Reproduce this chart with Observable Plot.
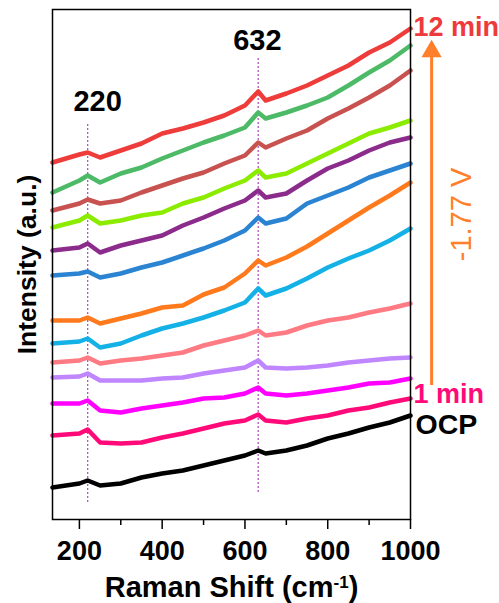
<!DOCTYPE html>
<html>
<head>
<meta charset="utf-8">
<script src="https://cdn.jsdelivr.net/npm/d3@7"></script>
<script src="https://cdn.jsdelivr.net/npm/@observablehq/plot@0.6"></script>
<style>
  html, body { margin: 0; padding: 0; background: #fff; }
  #chart { width: 499px; height: 603px; }
</style>
</head>
<body>
<div id="chart"></div>
<script>
// Raman shift sample positions (cm-1)
const shifts = [135, 200, 220, 250, 300, 350, 400, 450, 500, 550, 600, 632, 650, 700, 750, 800, 850, 900, 950, 1000];

// Intensities (a.u., stacked spectra), top to bottom
const min12 = [357, 365, 367, 362, 369, 376, 386, 391, 397, 404, 414, 428, 419, 426, 434, 444, 454, 467, 477, 491];
const min11 = [327, 339, 344, 337, 346, 352, 361, 369, 377, 384, 392, 407, 401, 407, 414, 422, 434, 447, 459, 474];
const min10 = [309, 316, 320, 316, 319, 327, 334, 341, 347, 356, 364, 377, 372, 381, 389, 401, 411, 422, 434, 449];
const min9  = [292, 299, 304, 296, 299, 304, 307, 316, 322, 331, 339, 349, 342, 346, 356, 366, 376, 386, 392, 399];
const min8  = [269, 272, 276, 267, 274, 279, 284, 294, 302, 311, 319, 329, 322, 326, 339, 351, 359, 369, 377, 382];
const min7  = [244, 246, 248, 242, 246, 252, 257, 264, 271, 279, 289, 302, 296, 301, 316, 324, 332, 342, 349, 356];
const min6  = [199, 199, 202, 196, 201, 206, 212, 214, 225, 232, 246, 259, 254, 262, 273, 286, 299, 312, 324, 337];
const min5  = [176, 178, 181, 172, 176, 184, 191, 196, 202, 209, 217, 231, 224, 231, 241, 252, 261, 269, 279, 291];
const min4  = [157, 159, 162, 156, 159, 161, 164, 167, 174, 179, 184, 189, 184, 187, 194, 199, 202, 207, 211, 216];
const min3  = [142, 143, 146, 139, 139, 139, 141, 142, 146, 149, 152, 159, 152, 151, 152, 154, 157, 159, 161, 162];
const min2  = [116, 116, 119, 109, 107, 111, 114, 117, 121, 122, 126, 132, 126, 124, 126, 129, 132, 136, 137, 141];
const min1  = [84, 86, 90, 77, 76, 77, 82, 86, 91, 96, 99, 105, 99, 97, 101, 104, 109, 112, 117, 121];
const ocp   = [32, 36, 39, 34, 36, 42, 46, 49, 54, 59, 64, 69, 66, 69, 74, 81, 86, 92, 97, 104];

const seriesNames = ["12 min","11 min","10 min","9 min","8 min","7 min","6 min","5 min","4 min","3 min","2 min","1 min","OCP"];
const seriesValues = [min12, min11, min10, min9, min8, min7, min6, min5, min4, min3, min2, min1, ocp];
const seriesColors = ["#ee3c3a","#4cba66","#c8524f","#8cec00","#8b2b8b","#2a84d2","#ff7a1c","#14b1e7","#ff7b84","#bf86ff","#ff00ff","#ff0a78","#000000"];

const majorTicks = [200, 400, 600, 800, 1000];
const minorTicks = [300, 500, 700, 900];

// Peak markers
const peaks = [
  {shift: 220, label: "220", lo: 17, hi: 397, lx: 244, ly: 418},
  {shift: 632, label: "632", lo: 27, hi: 461, lx: 630, ly: 479}
];

const rows = [];
seriesNames.forEach((name, i) => {
  shifts.forEach((s, j) => rows.push({series: name, shift: s, intensity: seriesValues[i][j]}));
});

const font = "'Liberation Sans', Arial, sans-serif";
const orange = "#ff7f2a";

const chart = Plot.plot({
  width: 499,
  height: 603,
  marginLeft: 52,
  marginRight: 89,
  marginTop: 9,
  marginBottom: 84,
  style: {fontFamily: font, fontSize: "27px", fontWeight: "bold", color: "#000", background: "#fff", overflow: "visible"},
  x: {domain: [135, 1000]},
  y: {domain: [0, 510], axis: null},
  color: {domain: seriesNames, range: seriesColors},
  marks: [
    Plot.ruleX(peaks, {x: "shift", y1: "lo", y2: "hi", stroke: "#b553c3", strokeWidth: 1.3, strokeDasharray: "2,2"}),
    Plot.line(rows, {x: "shift", y: "intensity", z: "series", stroke: "series", strokeWidth: 4.5, strokeLinejoin: "round"}),
    Plot.text(peaks, {x: "lx", y: "ly", text: "label", fontSize: 29, fontWeight: "bold", fill: "#000"}),
    Plot.frame({stroke: "#000", strokeWidth: 1.5}),
    Plot.axisX({ticks: majorTicks, tickSize: 10, tickPadding: 11, strokeWidth: 1.5, fontSize: 27, fontWeight: "bold", tickFormat: d3.format("d"), label: null}),
    Plot.axisX({ticks: minorTicks, tickSize: 6, strokeWidth: 1.5, tickFormat: () => "", label: null}),
    Plot.text(["Raman Shift (cm-1)"], {frameAnchor: "bottom", dy: 68, textAnchor: "middle", lineAnchor: "middle", fontSize: 29, fontWeight: "bold", fill: "#000"}),
    Plot.text(["Intensity (a.u.)"], {frameAnchor: "left", dx: -25, textAnchor: "middle", lineAnchor: "middle", rotate: -90, fontSize: 26.5, fontWeight: "bold", fill: "#000"}),
    Plot.text(["12 min"], {frameAnchor: "top-right", dx: 3, dy: 18, textAnchor: "start", lineAnchor: "middle", fontSize: 27, fontWeight: "bold", fill: "#ee3a3a"}),
    Plot.text(["1 min"], {frameAnchor: "top-right", dx: 3, dy: 385, textAnchor: "start", lineAnchor: "middle", fontSize: 27, fontWeight: "bold", fill: "#ff0a78"}),
    Plot.text(["OCP"], {frameAnchor: "top-right", dx: 5, dy: 415, textAnchor: "start", lineAnchor: "middle", fontSize: 28.5, fontWeight: "bold", fill: "#000"}),
    Plot.text(["-1.77 V"], {frameAnchor: "top-right", dx: 51, dy: 205, textAnchor: "middle", lineAnchor: "middle", rotate: -90, fontSize: 29, fontWeight: "normal", fill: orange}),
    Plot.ruleX([1051], {y1: 134, y2: 462, stroke: orange, strokeWidth: 3}),
    Plot.dot([{x: 1051, y: 468}], {x: "x", y: "y", symbol: "triangle", r: 7.5, fill: orange, stroke: "none"})
  ]
});

document.getElementById("chart").appendChild(chart);

// superscript for cm-1
d3.select(chart).selectAll("text").filter(function() { return this.textContent === "Raman Shift (cm-1)"; })
  .each(function() {
    const t = d3.select(this);
    t.text(null);
    t.append("tspan").text("Raman Shift (cm");
    t.append("tspan").attr("baseline-shift", "super").attr("font-size", "17px").text("-1");
    t.append("tspan").text(")");
  });
</script>
</body>
</html>
